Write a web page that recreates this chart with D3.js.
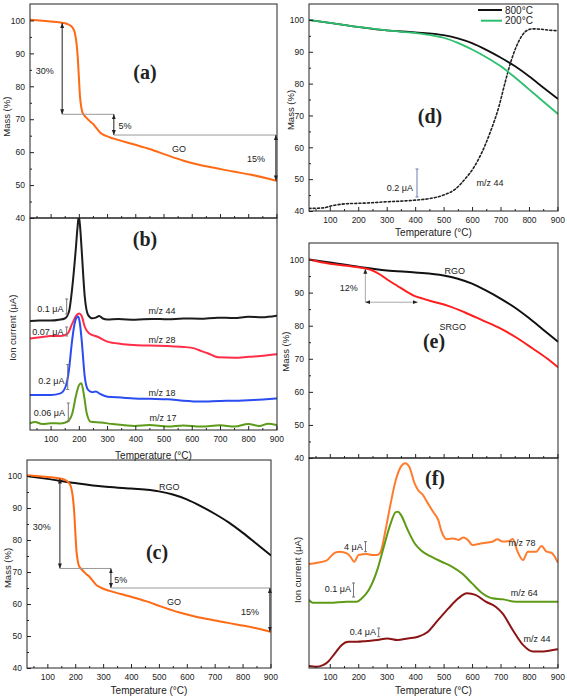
<!DOCTYPE html>
<html><head><meta charset="utf-8">
<script src="https://cdn.jsdelivr.net/npm/d3@7"></script>
<style>
body{margin:0;background:#fff}
svg{display:block}
text{font-family:"Liberation Sans",Arial,Helvetica,sans-serif;fill:#222}
</style>
</head><body>
<svg id="chart" width="567" height="698"></svg>
<script>
// ---------- tick labels ----------
const tempTicks = [100,200,300,400,500,600,700,800,900];
const tempMinor = [50,150,250,350,450,550,650,750,850];
const massTicks = [40,50,60,70,80,90,100];
const massMinor = [45,55,65,75,85,95];

// ---------- GO (panels a, c) ----------
const goT = [27,60,100,141,165,178,186,192,196,200,204,208,212,218,224,232,241,250,259,268,276,285,294,324,394,453,512,571,629,688,747,806,865,900];
const goM = [100.2,100.0,99.7,99.3,98.7,97.8,96.2,92.9,89.0,83.0,77.0,74.0,72.3,71.3,70.7,70.0,69.2,68.6,67.7,66.7,65.9,65.4,65.0,64.1,62.4,60.9,59.1,57.4,56.1,55.1,54.1,53.2,52.1,51.3];

// ---------- RGO / 800°C (panels c, d, e) ----------
const rgoT = [27,100,200,300,400,500,550,600,650,700,750,800,850,900];
const rgoM = [100.0,99.1,97.8,96.7,96.1,95.2,94.2,92.7,90.6,88.2,85.5,82.3,78.8,75.3];

// ---------- 200°C (panel d) ----------
const t200T = [27,100,200,300,400,450,500,550,600,650,700,750,800,850,900];
const t200M = [100.0,99.1,97.8,96.7,95.9,95.3,94.4,92.8,90.7,88.3,85.5,82.0,78.2,74.4,70.6];

// ---------- m/z 44 dotted (panel d, plotted on mass axis) ----------
const d44T = [27,80,100,130,160,200,250,300,350,400,450,500,540,575,605,635,665,695,715,735,755,775,795,815,840,870,900];
const d44V = [40.8,41.0,41.5,42.0,42.3,42.4,42.6,42.9,43.1,43.4,43.9,45.0,46.8,50.0,53.5,58.5,65.0,73.0,80.0,86.5,91.5,95.0,96.8,97.2,97.1,96.8,96.6];

// ---------- SRGO (panel e) ----------
const srgoT = [27,100,160,225,250,278,310,338,370,397,430,457,516,575,635,694,754,813,860,900];
const srgoM = [100.0,98.7,98.1,97.3,96.7,95.4,93.5,92.0,90.3,89.0,88.1,87.4,86.0,84.0,81.7,79.4,76.5,73.1,70.3,67.6];

// ---------- panel b ion currents (arbitrary units 0-100) ----------
const b44T = [27,60,100,130,150,165,177,189,195,200,205,210,221,233,248,260,272,285,301,340,400,460,515,570,630,692,750,800,850,900];
const b44V = [51.4,51.7,51.6,52.0,52.6,55.8,67.6,85,95,101,95,85,62.9,54.2,52.7,53.0,53.8,52.6,52.1,52.3,52.0,52.4,52.2,52.6,52.5,53.0,52.8,53.4,53.2,53.9];
const b28T = [27,64,100,135,159,177,192,201,210,221,236,266,301,350,396,450,515,570,609,635,657,692,752,800,844,900];
const b28V = [43.2,43.7,44.3,44.3,45.3,50.3,54.2,55.0,53.8,48.7,45.6,44.0,41.7,40.6,40.1,39.8,39.6,39.2,38.5,37.2,36.2,34.3,34.1,34.5,34.9,35.7];
const b18T = [27,100,135,153,165,175,183,192,198,204,210,221,233,248,260,275,301,350,396,450,515,570,633,700,752,820,900];
const b18V = [16.5,16.5,17.3,20.4,28.3,40.9,48.7,53.0,53.5,50.0,42.5,25.1,18.9,17.8,18.2,17.0,15.7,15.3,14.9,14.7,14.5,13.8,13.4,13.7,13.8,14.2,14.9];
const b17T = [27,45,70,100,135,159,177,189,201,209,219,228,242,278,320,396,450,515,570,633,700,752,800,840,870,900];
const b17V = [3.1,3.8,2.8,3.2,3.1,3.9,7.9,15.7,21.2,22.0,15.7,7.9,3.9,3.5,2.8,1.9,2.3,1.6,2.1,1.6,2.2,1.6,2.8,1.9,3.0,2.4];

// ---------- panel f ion currents (arbitrary units 0-100) ----------
const f78T = [27,52,88,118,136,160,171,186,201,231,249,267,279,296,314,332,350,365,379,398,410,427,445,463,481,493,511,535,552,570,588,600,636,671,689,707,731,743,760,779,796,826,844,862,879,900];
const f78V = [49.5,50.0,51.1,54.9,55.4,54.6,53.3,50.6,53.8,54.3,53.8,53.8,55.4,65.7,78.4,89.5,95.9,97.5,95.9,87.9,84.8,82.4,78.4,74.4,70.5,64.9,61.3,61.7,61.0,62.2,60.6,58.6,59.4,60.1,61.3,60.2,60.5,61.4,55.4,51.4,55.4,55.4,58.1,55.4,54.9,50.6];
const f64T = [27,40,100,160,195,213,237,267,290,314,332,340,350,374,398,421,457,493,529,564,600,636,671,707,755,820,900];
const f64V = [32.4,31.1,31.1,31.6,31.6,33.2,37.1,46.7,57.8,68.9,74.2,74.4,72.9,65.7,59.4,55.9,53.0,50.6,48.3,45.1,40.3,35.6,33.2,32.7,31.6,31.6,31.6];
const f44T = [27,52,76,94,118,142,165,195,231,267,302,338,374,410,445,481,517,552,582,612,648,683,707,743,779,814,850,900];
const f44V = [1.0,0.6,1.4,3.0,7.0,11.0,12.5,12.5,12.9,13.3,14.1,13.3,14.1,14.9,17.3,22.9,28.4,33.2,35.6,34.8,31.6,29.2,26.0,18.1,11.0,7.8,7.9,8.9];

// ---------- drawing ----------
const svg = d3.select("#chart");
const defs = svg.append("defs");
defs.append("marker").attr("id","arr").attr("viewBox","0 0 10 10")
  .attr("refX",10).attr("refY",5).attr("markerWidth",5).attr("markerHeight",5)
  .attr("markerUnits","userSpaceOnUse").attr("orient","auto-start-reverse")
  .append("path").attr("d","M0,1 L10,5 L0,9 Z").attr("fill","#222");

const X_DOMAIN = [27, 902];
let clipN = 0;
function panel(l,t,r,b,yDom){
  const x = d3.scaleLinear().domain(X_DOMAIN).range([l,r]);
  const y = d3.scaleLinear().domain(yDom).range([b,t]);
  const id = "clip"+(clipN++);
  defs.append("clipPath").attr("id",id).append("rect")
    .attr("x",l).attr("y",t).attr("width",r-l).attr("height",b-t);
  const g = svg.append("g");
  const plot = g.append("g").attr("clip-path",`url(#${id})`);
  return {x,y,g,plot,l,t,r,b};
}
function styleAxis(sel){
  sel.attr("font-family",null).attr("font-size",null);
  sel.select(".domain").remove();
  sel.selectAll("line").attr("stroke","#222");
  sel.selectAll("text").attr("font-size",8.5).attr("fill","#222");
}
function xAxis(p,labels){
  p.g.append("g").attr("transform",`translate(0,${p.b})`)
    .call(d3.axisBottom(p.x).tickValues(tempTicks).tickSizeInner(-4).tickSizeOuter(0)
      .tickPadding(6).tickFormat(labels?d3.format("d"):()=>""))
    .call(styleAxis);
  p.g.append("g").attr("transform",`translate(0,${p.b})`)
    .call(d3.axisBottom(p.x).tickValues(tempMinor).tickSizeInner(-2).tickSizeOuter(0).tickFormat(()=>""))
    .call(styleAxis);
}
function yAxisMass(p){
  p.g.append("g").attr("transform",`translate(${p.l},0)`)
    .call(d3.axisLeft(p.y).tickValues(massTicks).tickSizeInner(-4).tickSizeOuter(0)
      .tickPadding(5).tickFormat(d3.format("d")))
    .call(styleAxis);
  p.g.append("g").attr("transform",`translate(${p.l},0)`)
    .call(d3.axisLeft(p.y).tickValues(massMinor).tickSizeInner(-2).tickSizeOuter(0).tickFormat(()=>""))
    .call(styleAxis);
}
function frame(p){
  p.g.append("rect").attr("x",p.l).attr("y",p.t).attr("width",p.r-p.l).attr("height",p.b-p.t)
    .attr("fill","none").attr("stroke","#222").attr("stroke-width",1);
}
function curve(p,T,V,color,w,dash){
  const line = d3.line().x(d=>p.x(d[0])).y(d=>p.y(d[1])).curve(d3.curveMonotoneX);
  const path = p.plot.append("path").datum(d3.zip(T,V)).attr("d",line)
    .attr("fill","none").attr("stroke",color).attr("stroke-width",w)
    .attr("stroke-linejoin","round").attr("stroke-linecap","round");
  if(dash) path.attr("stroke-dasharray",dash);
}
function text(x,y,s,opts={}){
  const t = svg.append("text").attr("x",x).attr("y",y).text(s)
    .attr("font-size",opts.size||9).attr("text-anchor",opts.anchor||"middle")
    .attr("dominant-baseline",opts.base||"central");
  if(opts.rotate) t.attr("transform",`rotate(-90,${x},${y})`);
  if(opts.serif) t.style("font-family","'Liberation Serif','Times New Roman',Times,serif").style("font-weight","bold");
  if(opts.fill) t.style("fill",opts.fill);
  return t;
}
function panelLabel(x,y,s){ text(x,y,s,{size:20,serif:true,base:"alphabetic"}); }
function arrow(p,t1,v1,t2,v2,color){
  p.g.append("line").attr("x1",p.x(t1)).attr("y1",p.y(v1)).attr("x2",p.x(t2)).attr("y2",p.y(v2))
    .attr("stroke",color||"#222").attr("stroke-width",1)
    .attr("marker-end","url(#arr)").attr("marker-start","url(#arr)");
}
function hline(p,t1,t2,v,color){
  p.g.append("line").attr("x1",p.x(t1)).attr("x2",p.x(t2)).attr("y1",p.y(v)).attr("y2",p.y(v))
    .attr("stroke",color||"#9a9a9a").attr("stroke-width",1);
}
function scaleBar(x,y1,y2,color){
  const c = color||"#777";
  svg.append("line").attr("x1",x).attr("x2",x).attr("y1",y1).attr("y2",y2).attr("stroke",c).attr("stroke-width",1);
  [y1,y2].forEach(y=>svg.append("line").attr("x1",x-1.5).attr("x2",x+1.5).attr("y1",y).attr("y2",y).attr("stroke",c).attr("stroke-width",1));
}
const xTitle = "Temperature (°C)";

// ===== Panel (a) =====
const pa = panel(30,4,277,218,[40,105]);
curve(pa,goT,goM,"#ff6a14",2);
arrow(pa,141,99.2,141,71.5);
hline(pa,141,324,71.5);
arrow(pa,324,71.5,324,65.2);
hline(pa,324,900,65.2);
arrow(pa,898,65.2,898,51.4);
xAxis(pa,false); yAxisMass(pa); frame(pa);
text(44.7,70.7,"30%");
text(125,126,"5%");
text(179,149,"GO");
text(256,159,"15%");
panelLabel(145,79,"(a)");
text(7,116.7,"Mass (%)",{size:9.5,rotate:true});

// ===== Panel (b) =====
const pb = panel(30,218,277,430,[0,100]);
curve(pb,b44T,b44V,"#1c1c1c",2);
curve(pb,b28T,b28V,"#ff2d47",2);
curve(pb,b18T,b18V,"#2a4cf0",2);
curve(pb,b17T,b17V,"#5e9b1b",2);
xAxis(pb,true); frame(pb);
text(153.5,455.5,xTitle,{size:10});
text(12.5,327.7,"Ion current (μA)",{size:9.5,rotate:true});
panelLabel(145,246,"(b)");
text(63.5,308.5,"0.1 μA",{anchor:"end"}); scaleBar(66.7,299,314);
text(63.5,332,"0.07 μA",{anchor:"end"}); scaleBar(66.7,327,336);
text(64.5,381,"0.2 μA",{anchor:"end"}); scaleBar(67.7,364.5,389.5);
text(65,412.7,"0.06 μA",{anchor:"end"}); scaleBar(68.3,403,421);
text(162,310.5,"m/z 44");
text(162,340,"m/z 28");
text(162,393,"m/z 18");
text(163,418.3,"m/z 17");

// ===== Panel (c) =====
const pc = panel(27,460,271,668,[40,105]);
curve(pc,rgoT,rgoM,"#111",2);
curve(pc,goT,goM,"#ff6a14",2);
arrow(pc,145,99.2,145,71.1);
hline(pc,145,328,71.1);
arrow(pc,328,71.1,328,65.0);
hline(pc,328,900,65.0);
arrow(pc,898,65.0,898,51.4);
xAxis(pc,true); yAxisMass(pc); frame(pc);
text(41.7,526.7,"30%");
text(120.7,580,"5%");
text(174,601.7,"GO");
text(250,611.7,"15%");
text(169.3,487.3,"RGO");
panelLabel(157,559,"(c)");
text(149,690,xTitle,{size:10});
text(7,568,"Mass (%)",{size:9.5,rotate:true});

// ===== Panel (d) =====
const pd = panel(309,4,558,211,[40,105]);
curve(pd,d44T,d44V,"#222",1.6,"2,2.2");
curve(pd,rgoT,rgoM,"#111",1.8);
curve(pd,t200T,t200M,"#2cbf6e",1.8);
xAxis(pd,true); yAxisMass(pd); frame(pd);
svg.append("line").attr("x1",478).attr("x2",502).attr("y1",10).attr("y2",10).attr("stroke","#111").attr("stroke-width",2);
svg.append("line").attr("x1",481).attr("x2",502).attr("y1",20.7).attr("y2",20.7).attr("stroke","#2cbf6e").attr("stroke-width",2);
text(505,10,"800°C",{anchor:"start",size:10});
text(505,20.7,"200°C",{anchor:"start",size:10});
text(490,182.7,"m/z 44");
text(413,188,"0.2 μA",{anchor:"end"}); scaleBar(417,169,197,"#6d7fae");
panelLabel(430,122.5,"(d)");
text(433.5,232,xTitle,{size:10});
text(290,110,"Mass (%)",{size:9.5,rotate:true});

// ===== Panel (e) =====
const pe = panel(309,243,558,458,[40,105]);
curve(pe,rgoT,rgoM,"#111",2);
curve(pe,srgoT,srgoM,"#ff1e1e",2);
pe.g.append("line").attr("x1",pe.x(225)).attr("x2",pe.x(225)).attr("y1",pe.y(87.1)).attr("y2",pe.y(97.2))
  .attr("stroke","#aaa").attr("stroke-width",1).attr("marker-end","url(#arr)");
pe.g.append("line").attr("x1",pe.x(225)).attr("x2",pe.x(409)).attr("y1",pe.y(87.1)).attr("y2",pe.y(87.1))
  .attr("stroke","#aaa").attr("stroke-width",1).attr("marker-start","url(#arr)").attr("marker-end","url(#arr)");
yAxisMass(pe); xAxis(pe,false); frame(pe);
text(348.7,288.3,"12%");
text(454.7,270.7,"RGO");
text(452.7,327.3,"SRGO");
panelLabel(434,348,"(e)");
text(286,351.7,"Mass (%)",{size:9.5,rotate:true});

// ===== Panel (f) =====
const pf = panel(309,458,558,668,[0,100]);
curve(pf,f78T,f78V,"#ff7b2e",2);
curve(pf,f64T,f64V,"#5f9a16",2);
curve(pf,f44T,f44V,"#8c1414",2);
xAxis(pf,true); frame(pf);
text(362.7,547.3,"4 μA",{anchor:"end"}); scaleBar(365.5,541.7,551.7);
text(351,589,"0.1 μA",{anchor:"end"}); scaleBar(353.5,583,597);
text(376,632,"0.4 μA",{anchor:"end"}); scaleBar(378.7,628,636.7);
text(522,543.3,"m/z 78");
text(524.3,593.3,"m/z 64");
text(537,639,"m/z 44");
panelLabel(435,485,"(f)");
text(433.5,690,xTitle,{size:10});
text(297.5,570,"Ion current (μA)",{size:9.5,rotate:true});
</script>
</body></html>
